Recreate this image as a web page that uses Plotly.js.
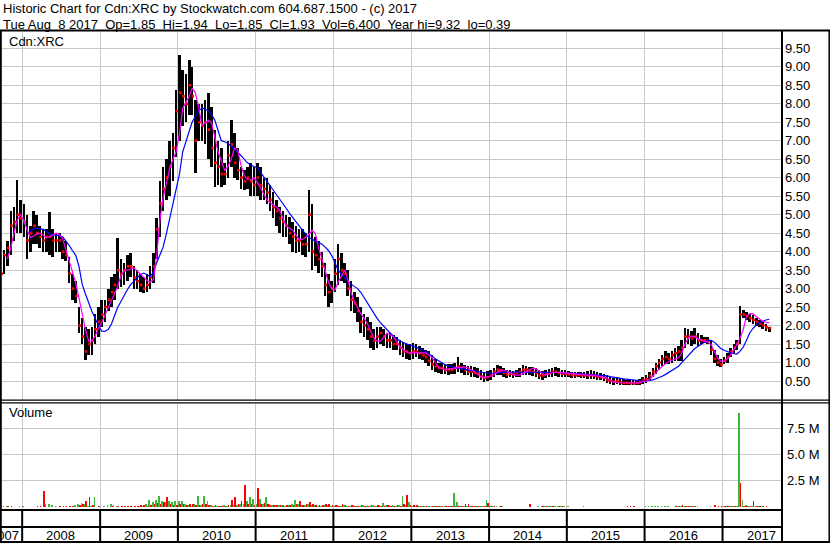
<!DOCTYPE html>
<html><head><meta charset="utf-8">
<script src="https://cdn.plot.ly/plotly-3.0.1.min.js"></script>
<style>html,body{margin:0;padding:0;background:#fff;}#chart{width:830px;height:543px;}</style>
</head><body><div id="chart"></div>
<script>
// ---- text ----
const headerLine1 = 'Historic Chart for Cdn:XRC by Stockwatch.com 604.687.1500 - (c) 2017';
const headerLine2 = 'Tue Aug \u00a08 2017 \u00a0Op=1.85 \u00a0Hi=1.94 \u00a0Lo=1.85 \u00a0Cl=1.93 \u00a0Vol=6,400 \u00a0Year hi=9.32 \u00a0lo=0.39';
const symbolLabel = 'Cdn:XRC';
const volumeLabel = 'Volume';

// ---- axes ----
const priceTicks = [0.5,1,1.5,2,2.5,3,3.5,4,4.5,5,5.5,6,6.5,7,7.5,8,8.5,9,9.5];
const priceTickText = ['0.50','1.00','1.50','2.00','2.50','3.00','3.50','4.00','4.50','5.00','5.50','6.00','6.50','7.00','7.50','8.00','8.50','9.00','9.50'];
const volTicks = [2.5,5,7.5];
const volTickText = ['2.5 M','5.0 M','7.5 M'];
const yearStarts = ['2008-01-01','2009-01-01','2010-01-01','2011-01-01','2012-01-01','2013-01-01','2014-01-01','2015-01-01','2016-01-01','2017-01-01'];
const yearLabels = ['2008','2009','2010','2011','2012','2013','2014','2015','2016','2017'];
const yearMids = ['2008-07-01','2009-07-02','2010-07-02','2011-07-02','2012-07-01','2013-07-02','2014-07-02','2015-07-02','2016-07-01','2017-07-02'];

// ---- data: half-month periods from 16 Sep 2007 to 8 Aug 2017 ----
const firstPeriod = {year: 2007, month: 9, half: 1}; // half 0 = 1st..15th, 1 = 16th..end

const high = [
 3.55,4.05,4.3,5.1,5.2,5.93,5.4, // 2007
 5.3,5.0,4.7,5.1,5.0,4.7,4.6,4.6,5.07,4.6,4.5,4.5,4.4,4.3,3.85,3.4,3.2,2.5,2.2,1.96,1.9,1.96,2.3,2.5, // 2008
 2.7,2.7,3.0,3.3,3.4,4.36,3.8,3.7,3.9,3.96,3.6,3.5,3.4,3.3,3.4,3.6,3.96,4.9,5.9,6.3,6.5,7.0,7.2,8.36, // 2009
 9.32,8.9,8.8,9.18,9.0,8.1,8.0,8.0,8.1,8.28,7.9,7.3,7.0,6.8,6.4,7.0,7.55,7.2,6.8,6.3,6.2,6.3,6.4,6.3, // 2010
 6.4,6.3,6.0,6.0,5.8,5.6,5.4,5.2,5.1,5.0,4.93,4.8,4.7,4.6,4.6,4.5,5.66,5.3,4.4,4.3,4.0,3.69,3.4,3.2, // 2011
 3.8,4.2,3.96,3.7,3.5,3.2,2.9,2.77,2.5,2.3,2.23,2.1,1.9,1.96,1.96,1.9,1.8,1.8,1.75,1.7,1.61,1.55,1.5,1.5, // 2012
 1.53,1.5,1.45,1.4,1.35,1.3,1.2,1.1,1.0,0.99,0.95,0.95,0.95,0.99,1.15,1.0,0.93,0.9,0.9,0.88,0.85,0.8,0.75,0.78, // 2013
 0.8,0.85,0.93,0.9,0.85,0.8,0.8,0.78,0.8,0.85,0.93,0.9,0.88,0.88,0.85,0.8,0.78,0.8,0.82,0.85,0.88,0.85,0.8,0.8, // 2014
 0.78,0.74,0.74,0.75,0.75,0.74,0.78,0.8,0.78,0.75,0.72,0.7,0.65,0.6,0.58,0.6,0.58,0.55,0.53,0.53,0.52,0.53,0.55,0.6, // 2015
 0.65,0.75,0.85,1.0,1.1,1.2,1.3,1.25,1.3,1.4,1.45,1.6,1.93,1.9,1.85,1.93,1.8,1.75,1.69,1.68,1.6,1.34,1.2,1.1, // 2016
 1.15,1.25,1.4,1.5,1.6,2.53,2.42,2.36,2.3,2.28,2.2,2.15,2.1,2.05,1.97 // 2017
];
const low = [
 2.95,3.4,3.6,3.9,4.3,4.5,4.5,
 4.4,3.8,4.0,4.2,4.2,4.1,4.0,4.0,3.9,3.85,4.0,4.0,3.8,3.75,3.15,2.7,2.6,1.8,1.5,1.07,1.2,1.2,1.5,1.7,
 1.96,2.1,2.4,2.5,2.7,3.0,3.05,3.1,3.2,3.3,3.0,3.0,2.9,2.88,2.9,3.0,3.15,3.8,4.4,5.1,5.4,5.5,5.9,6.55,
 7.0,7.4,7.5,7.7,7.7,6.12,7.0,7.0,6.9,6.5,6.3,5.74,5.8,5.74,5.8,6.0,6.3,6.0,5.93,5.7,5.66,5.7,5.5,5.5,
 5.5,5.4,5.4,5.3,5.1,4.9,4.7,4.5,4.4,4.4,4.2,4.0,3.96,4.0,3.9,3.85,4.0,3.5,3.6,3.42,3.3,2.8,2.5,2.6,
 2.9,3.1,3.2,3.15,2.8,2.4,2.34,2.1,1.8,1.7,1.6,1.4,1.34,1.4,1.5,1.45,1.4,1.4,1.34,1.35,1.2,1.15,1.1,1.07,
 1.1,1.15,1.1,1.07,1.0,0.9,0.8,0.75,0.72,0.7,0.7,0.66,0.68,0.7,0.75,0.72,0.66,0.65,0.62,0.61,0.58,0.52,0.47,0.5,
 0.53,0.6,0.65,0.66,0.6,0.58,0.6,0.58,0.6,0.62,0.65,0.66,0.65,0.63,0.6,0.55,0.53,0.58,0.6,0.62,0.63,0.62,0.6,0.62,
 0.6,0.58,0.58,0.6,0.58,0.57,0.56,0.55,0.55,0.53,0.52,0.5,0.45,0.42,0.4,0.42,0.39,0.39,0.4,0.39,0.39,0.4,0.4,0.42,
 0.45,0.5,0.6,0.7,0.8,0.9,0.95,0.95,1.0,1.05,1.05,1.05,1.4,1.5,1.45,1.5,1.45,1.5,1.53,1.5,1.2,1.0,0.9,0.88,
 0.95,1.0,1.15,1.25,1.35,1.5,2.2,2.15,2.1,2.05,2.0,1.95,1.9,1.85,1.82
];
const close = [
 3.4,3.9,4.1,4.7,4.8,5.0,4.9,
 4.8,4.3,4.5,4.7,4.5,4.4,4.3,4.4,4.4,4.3,4.3,4.3,4.0,3.9,3.4,3.0,2.8,2.0,1.7,1.3,1.5,1.6,1.9,2.1,
 2.3,2.5,2.7,2.9,3.1,3.5,3.4,3.5,3.6,3.6,3.3,3.2,3.1,3.0,3.1,3.3,3.6,4.6,5.3,5.7,6.0,6.3,6.8,7.8,
 8.3,8.2,8.0,8.5,8.2,7.0,7.5,7.4,7.5,7.3,6.8,6.4,6.3,6.1,6.1,6.6,6.9,6.4,6.2,6.0,5.9,6.0,5.9,5.8,
 6.0,5.8,5.7,5.6,5.4,5.2,5.1,4.9,4.8,4.7,4.5,4.4,4.3,4.3,4.2,4.2,5.0,4.0,3.9,3.8,3.6,3.1,2.9,3.0,
 3.4,3.8,3.5,3.4,3.0,2.7,2.6,2.4,2.1,2.0,1.9,1.7,1.6,1.7,1.8,1.7,1.6,1.6,1.5,1.5,1.4,1.3,1.3,1.25,
 1.3,1.3,1.25,1.2,1.15,1.05,0.95,0.9,0.85,0.85,0.8,0.8,0.8,0.85,0.9,0.85,0.8,0.75,0.75,0.72,0.7,0.62,0.58,0.6,
 0.65,0.75,0.8,0.78,0.72,0.68,0.7,0.68,0.72,0.75,0.8,0.8,0.78,0.75,0.72,0.65,0.65,0.7,0.72,0.75,0.75,0.72,0.7,0.7,
 0.68,0.66,0.66,0.68,0.66,0.65,0.65,0.66,0.64,0.62,0.6,0.58,0.52,0.5,0.48,0.5,0.46,0.45,0.45,0.44,0.44,0.45,0.47,0.52,
 0.55,0.65,0.75,0.9,1.0,1.1,1.15,1.1,1.2,1.25,1.3,1.4,1.7,1.7,1.65,1.7,1.6,1.6,1.6,1.58,1.35,1.1,1.0,0.95,
 1.05,1.15,1.3,1.4,1.5,2.3,2.3,2.25,2.2,2.15,2.1,2.05,2.0,1.95,1.93
];
const maFast = [
 null,null,3.8,4.1,4.5,4.85,5.0,
 4.85,4.6,4.38,4.42,4.48,4.5,4.45,4.37,4.4,4.45,4.5,4.46,4.35,4.05,3.78,3.47,3.15,2.75,2.3,1.9,1.57,1.58,1.72,1.92,
 2.08,2.27,2.5,2.67,2.85,3.05,3.35,3.5,3.5,3.52,3.56,3.48,3.4,3.32,3.22,3.17,3.25,3.9,4.85,5.45,5.85,6.25,6.5,6.7,
 7.2,7.87,8.05,8.2,8.42,8.3,7.9,7.42,7.48,7.55,7.48,7.08,6.7,6.45,6.2,6.3,6.5,6.8,6.76,6.35,6.05,5.95,5.94,6.0,
 5.88,5.72,5.55,5.4,5.33,5.27,5.2,5.12,4.9,4.7,4.63,4.58,4.45,4.33,4.33,4.38,4.47,4.58,4.48,4.1,3.8,3.48,3.18,3.0,
 2.96,3.18,3.36,3.5,3.25,2.9,2.65,2.47,2.32,2.2,2.05,1.85,1.67,1.58,1.58,1.68,1.8,1.75,1.7,1.57,1.43,1.36,1.29,1.26,
 1.26,1.27,1.28,1.27,1.26,1.2,1.13,1.0,0.88,0.83,0.8,0.82,0.84,0.85,0.86,0.87,0.88,0.86,0.82,0.76,0.68,0.61,0.59,0.6,
 0.63,0.67,0.74,0.8,0.79,0.77,0.72,0.67,0.66,0.66,0.7,0.74,0.8,0.85,0.83,0.78,0.7,0.66,0.69,0.72,0.73,0.74,0.73,0.72,
 0.71,0.7,0.69,0.67,0.66,0.66,0.66,0.66,0.66,0.64,0.62,0.6,0.58,0.53,0.47,0.46,0.46,0.45,0.45,0.45,0.45,0.45,0.45,0.48,
 0.5,0.54,0.62,0.72,0.82,0.9,0.97,1.03,1.07,1.1,1.13,1.25,1.5,1.65,1.72,1.7,1.64,1.6,1.58,1.55,1.48,1.3,1.13,1.03,
 1.03,1.1,1.2,1.35,1.5,1.65,1.9,2.25,2.32,2.32,2.24,2.17,2.12,2.09,2.07
];
const maSlow = [
 null,null,null,null,null,null,null,
 null,4.45,4.55,4.63,4.63,4.62,4.6,4.55,4.48,4.45,4.45,4.43,4.4,4.3,4.17,4.03,3.9,3.6,3.12,2.86,2.6,2.38,2.2,2.0,
 1.85,1.84,1.9,2.05,2.25,2.48,2.65,2.82,2.97,3.1,3.2,3.3,3.38,3.42,3.38,3.32,3.45,3.7,3.9,4.12,4.5,4.9,5.3,5.65,
 6.1,6.7,7.0,7.25,7.5,7.65,7.8,7.88,7.86,7.8,7.7,7.55,7.25,7.0,6.97,6.93,6.85,6.75,6.68,6.6,6.5,6.4,6.35,6.3,
 6.27,6.15,6.02,5.9,5.8,5.68,5.55,5.45,5.32,5.18,5.04,4.92,4.8,4.68,4.58,4.48,4.38,4.33,4.28,4.24,4.2,4.12,4.03,3.9,
 3.7,3.5,3.38,3.28,3.2,3.12,3.06,3.0,2.9,2.76,2.6,2.45,2.32,2.2,2.08,1.98,1.88,1.8,1.72,1.64,1.58,1.54,1.5,1.47,
 1.45,1.42,1.38,1.34,1.3,1.25,1.18,1.1,1.04,0.98,0.94,0.91,0.89,0.87,0.85,0.83,0.81,0.8,0.78,0.77,0.75,0.74,0.73,0.72,
 0.71,0.71,0.72,0.73,0.74,0.74,0.74,0.74,0.74,0.74,0.74,0.75,0.75,0.75,0.74,0.74,0.74,0.73,0.73,0.73,0.73,0.73,0.72,0.72,
 0.72,0.71,0.71,0.7,0.7,0.69,0.69,0.68,0.67,0.66,0.66,0.65,0.64,0.62,0.6,0.58,0.57,0.56,0.55,0.54,0.52,0.51,0.5,0.5,
 0.5,0.51,0.53,0.56,0.59,0.63,0.68,0.73,0.79,0.85,0.9,1.0,1.1,1.2,1.3,1.38,1.44,1.5,1.55,1.59,1.6,1.55,1.47,1.38,
 1.33,1.29,1.26,1.24,1.23,1.3,1.42,1.6,1.8,1.92,2.02,2.08,2.12,2.15,2.17
];
// volume in millions of shares, split by up (green) / down (red) activity
const volUp = [
 0,0.05,0.08,0,0,0,0.05,
 0.06,0,0,0,0,0,0,0.25,0.25,0.22,0.1,0,0,0,0,0,0.15,0.3,0.4,0.3,0.1,0.05,0.9,0,
 0,0.05,0.2,0.25,0.15,0.05,0,0,0,0,0,0,0.05,0.1,0.3,0.7,0.5,0.7,1.0,0.6,0.5,0.6,0.5,0.55,
 0.6,0.55,0.3,0.2,0.1,0.3,1.0,0.2,1.0,0.6,0.15,0.1,0.1,0.1,0.15,0.1,0.2,0.15,0.2,0.3,0.3,0.6,0.9,0.8,
 0.3,0.8,0.3,0.9,0.3,0.2,0.15,0.2,0.15,0.1,0.2,0.25,0.7,0.3,0.2,0.15,0.3,0.2,0.15,0.1,0.1,0.15,0.2,0.1,
 0.1,0.15,0.1,0.2,0.1,0.1,0.15,0.1,0.1,0.15,0.1,0.1,0.2,0.1,0.15,0.4,0.2,0.2,0.15,0.1,0.2,1.05,0.2,0.5,
 0.1,0.1,0.1,0.05,0.05,0.05,0.05,0.05,0.05,0.1,0.1,0.1,0.1,1.3,0.5,0.05,0.05,0.05,0.05,0.1,0.1,0.05,0.1,0.67,
 0.1,0.05,0.05,0.05,0.05,0,0,0,0,0,0,0,0,0,0,0.05,0.05,0.05,0.05,0.05,0.05,0.05,0.05,0.05,
 0.05,0.03,0.03,0.03,0.03,0.05,0.03,0.03,0,0,0,0,0,0,0,0,0,0,0,0,0,0,0,0,
 0.05,0.05,0.05,0.05,0.05,0.05,0.1,0.05,0,0,0.1,0.1,0.1,0.05,0.1,0.05,0.05,0,0,0,0.1,0,0,0,
 0.05,0.05,0.05,0.05,0.05,9.0,0.67,0.2,0.05,0.05,0.1,0.05,0.05,0,0
];
const volDown = [
 0,0,0.06,0.05,0,0,0,
 0,0,0,0,0.08,0.05,1.55,0,0,0,0,0.05,0.1,0.12,0.1,0.05,0,0.2,0.3,0.6,0.9,0.15,0,0.05,
 0,0,0,0.08,0,0.1,0.1,0.12,0.1,0.1,0.05,0.05,0.2,0.15,0.1,0.2,0.3,0.4,0.3,0.5,0.95,0.3,0.2,0.2,
 0.3,0.3,0.2,0.3,0.3,0.2,0.2,0.3,0.25,0.2,0.1,0.15,0.1,0.1,0.1,0.15,0.7,0.95,0.3,0.6,2.1,0.3,0.3,0.2,
 1.8,0.3,0.4,0.3,0.2,0.2,0.15,0.2,0.2,0.15,0.15,0.2,0.3,0.6,0.2,0.3,0.45,0.3,0.2,0.2,0.15,0.3,0.25,0.15,
 0.2,0.1,0.3,0.15,0.1,0.2,0.1,0.1,0.15,0.1,0.1,0.15,0.1,0.15,0.1,0.1,0.15,0.1,0.1,0.15,0.1,0.3,1.15,0.2,
 0.15,0.2,0.1,0.1,0.05,0.05,0.05,0.05,0.05,0.05,0.05,0.05,0.05,0.05,0.05,0.05,0.3,0.3,0.05,0.1,0.1,0.1,0.05,0.35,
 0.05,0.05,0,0.05,0,0,0,0,0,0,0,0,0.3,0,0,0,0.05,0.05,0.05,0.05,0,0.05,0.05,0,
 0,0,0,0,0,0,0,0,0,0,0,0,0,0,0,0,0,0,0.08,0.08,0.05,0,0,0,
 0,0,0,0,0,0,0,0,0,0.1,0.1,0.15,0.1,0.1,0.1,0.05,0,0,0,0,0,0.15,0.05,0.05,
 0.05,0.05,0.1,0.1,0.1,2.26,0.1,0.05,0.1,0.6,0.05,0.05,0.05,0.05,0.02
];

// ---- build period dates ----
const DAY = 86400000;
const n = high.length;
[low, close, maFast, maSlow, volUp, volDown].forEach((a, i) => {
  if (a.length !== n) throw new Error('length mismatch in series ' + i + ': ' + a.length + ' vs ' + n);
});
const starts = [];
{
  let y = firstPeriod.year, m = firstPeriod.month, h = firstPeriod.half;
  for (let i = 0; i < n; i++) {
    starts.push(Date.UTC(y, m - 1, h ? 16 : 1));
    if (h) { h = 0; m++; if (m > 12) { m = 1; y++; } } else { h = 1; }
  }
}
const iso = ms => new Date(ms).toISOString().slice(0, 19).replace('T', ' ');
const xStart = starts.map(iso);
const xMid = starts.map(s => iso(s + 7.6 * DAY));
const xClose = starts.map(s => iso(s + 11 * DAY));
const xVolDown = starts.map(s => iso(s + 7.5 * DAY));
const span = high.map((h, i) => h - low[i]);

const FONT = 'Arial, "Liberation Sans", sans-serif';
const traces = [
  {type: 'bar', x: xStart, base: low, y: span, offset: 1.5 * DAY, width: 12 * DAY,
   marker: {color: '#000000', line: {width: 0}}, xaxis: 'x', yaxis: 'y'},
  {type: 'scatter', mode: 'markers', x: xClose, y: close,
   marker: {symbol: 'square', size: 2.6, color: '#ff0000', line: {width: 0}}, xaxis: 'x', yaxis: 'y'},
  {type: 'scatter', mode: 'lines', x: xMid, y: maSlow, connectgaps: false,
   line: {color: '#0000ff', width: 1.2}, xaxis: 'x', yaxis: 'y'},
  {type: 'scatter', mode: 'lines', x: xMid, y: maFast, connectgaps: false,
   line: {color: '#ff00ff', width: 1.2}, xaxis: 'x', yaxis: 'y'},
  {type: 'bar', x: xStart, y: volUp, offset: 0, width: 8 * DAY,
   marker: {color: '#3db83d', line: {width: 0}}, xaxis: 'x2', yaxis: 'y2'},
  {type: 'bar', x: xVolDown, y: volDown, offset: 0, width: 7.5 * DAY,
   marker: {color: '#ff0000', line: {width: 0}}, xaxis: 'x2', yaxis: 'y2'}
];

const W = 830, H = 543;
const px = v => v / W, py = v => 1 - v / H;
const xRange = ['2007-09-28 06:00', '2017-10-02 12:00'];
const gridCol = '#c8c8c8';
const xCommon = {type: 'date', domain: [px(2), px(781)], range: xRange, tickvals: yearStarts,
  showticklabels: false, ticks: '', showgrid: true, gridcolor: gridCol, gridwidth: 1,
  zeroline: false, showline: false, fixedrange: true};

const shapes = [];
const hline = (y, x0, x1, w) => shapes.push({type: 'line', xref: 'paper', yref: 'paper',
  x0: px(x0), x1: px(x1), y0: py(y), y1: py(y), line: {color: '#000', width: w}, layer: 'above'});
const vline = (x, y0, y1, w) => shapes.push({type: 'line', xref: 'paper', yref: 'paper',
  x0: px(x), x1: px(x), y0: py(y0), y1: py(y1), line: {color: '#000', width: w}, layer: 'above'});
hline(30.5, 0, W, 2);
hline(400.2, 0, W, 1.3);
hline(402.9, 0, W, 1.3);
hline(510, 0, 782, 2);
hline(527, 0, 782, 2);
hline(542, 0, W, 2);
vline(0.8, 30, H, 2);
vline(782, 30, H, 2);
vline(829.2, 30, H, 1.5);
yearStarts.forEach(d => shapes.push({type: 'line', xref: 'x', yref: 'paper', x0: d, x1: d,
  y0: py(510), y1: py(542), line: {color: '#000', width: 2}, layer: 'above'}));

const annotations = [
  {text: headerLine1, x: px(1), y: py(8.5)},
  {text: headerLine2, x: px(1), y: py(24.5)},
  {text: symbolLabel, x: px(7), y: py(41.5)},
  {text: volumeLabel, x: px(7), y: py(413)}
].map(a => Object.assign({xref: 'paper', yref: 'paper', xanchor: 'left', yanchor: 'middle',
  showarrow: false, font: {family: FONT, size: 13, color: '#000'}}, a));
yearLabels.forEach((t, i) => annotations.push({text: t, xref: 'x', yref: 'paper', x: yearMids[i],
  y: py(535), xanchor: 'center', yanchor: 'middle', showarrow: false,
  font: {family: FONT, size: 13, color: '#000'}}));
annotations.push({text: '2007', xref: 'x', yref: 'paper', x: '2007-12-27', y: py(535),
  xanchor: 'right', yanchor: 'middle', showarrow: false, font: {family: FONT, size: 13, color: '#000'}});

const layout = {
  width: W, height: H,
  margin: {l: 0, r: 0, t: 0, b: 0},
  paper_bgcolor: '#ffffff', plot_bgcolor: '#ffffff',
  showlegend: false, barmode: 'overlay', bargap: 0,
  font: {family: FONT, size: 13, color: '#000'},
  xaxis: Object.assign({}, xCommon, {anchor: 'y'}),
  xaxis2: Object.assign({}, xCommon, {anchor: 'y2', matches: 'x'}),
  yaxis: {domain: [py(399.5), py(31.5)], range: [0, 9.953], side: 'right', anchor: 'x',
    tickvals: priceTicks, ticktext: priceTickText, ticks: '', ticklabelstandoff: 3,
    showgrid: true, gridcolor: gridCol, gridwidth: 1, zeroline: false, showline: false,
    tickfont: {family: FONT, size: 13, color: '#000'}, fixedrange: true},
  yaxis2: {domain: [py(509.5), py(403.5)], range: [-0.248, 9.866], side: 'right', anchor: 'x2',
    tickvals: volTicks, ticktext: volTickText, ticks: '', ticklabelstandoff: 5,
    showgrid: true, gridcolor: gridCol, gridwidth: 1, zeroline: false, showline: false,
    tickfont: {family: FONT, size: 13, color: '#000'}, fixedrange: true},
  shapes: shapes,
  annotations: annotations
};

Plotly.newPlot('chart', traces, layout, {staticPlot: true, displayModeBar: false});
</script>
</body></html>
